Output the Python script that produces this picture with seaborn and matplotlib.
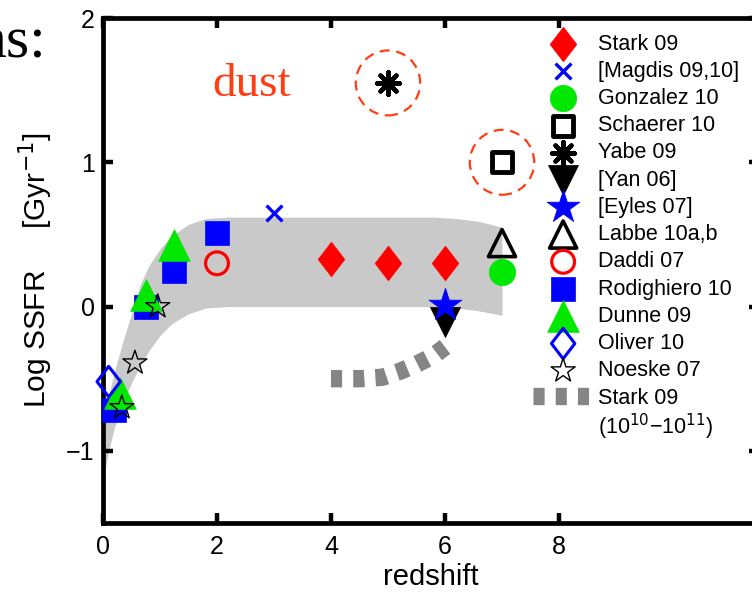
import matplotlib
matplotlib.use("Agg")
import matplotlib.pyplot as plt
from matplotlib.path import Path
from matplotlib.patches import Ellipse
import seaborn as sns

# ---- measurements: redshift z and log specific star-formation rate [Gyr^-1] ----
stark_z = [4.0, 5.0, 6.0]
stark_ssfr = [0.33, 0.30, 0.30]
magdis_z = [3.0]
magdis_ssfr = [0.65]
gonzalez_z = [7.0]
gonzalez_ssfr = [0.24]
schaerer_z = [7.0]
schaerer_ssfr = [1.0]
yabe_z = [5.0]
yabe_ssfr = [1.55]
yan_z = [6.0]
yan_ssfr = [-0.11]
eyles_z = [6.0]
eyles_ssfr = [0.01]
labbe_z = [7.0]
labbe_ssfr = [0.44]
daddi_z = [2.0]
daddi_ssfr = [0.30]
rodighiero_z = [0.2, 0.75, 1.25, 2.0]
rodighiero_ssfr = [-0.72, 0.0, 0.25, 0.51]
dunne_z = [0.3, 0.75, 1.25]
dunne_ssfr = [-0.6, 0.08, 0.43]
oliver_z = [0.1]
oliver_ssfr = [-0.52]
noeske_z = [0.33, 0.56, 0.96]
noeske_ssfr = [-0.70, -0.39, 0.0]
stark_mass_z = [4.0, 4.5, 4.9, 5.2, 5.5, 5.8, 6.0]
stark_mass_ssfr = [-0.5, -0.5, -0.49, -0.45, -0.40, -0.34, -0.28]

# model envelope (shaded band)
band_z = [0.0, 0.1, 0.2, 0.35, 0.5, 0.65, 0.8, 1.0, 1.2, 1.5, 1.8, 2.2,
          3.0, 4.0, 5.0, 5.8, 6.2, 6.6, 7.0]
band_hi = [-0.80, -0.62, -0.45, -0.24, -0.05, 0.15, 0.28, 0.40, 0.49, 0.57,
           0.61, 0.62, 0.62, 0.62, 0.62, 0.62, 0.61, 0.59, 0.55]
band_lo = [-1.20, -1.00, -0.84, -0.67, -0.53, -0.41, -0.31, -0.20, -0.12,
           -0.05, -0.01, 0.0, 0.0, 0.0, 0.0, 0.0, -0.01, -0.03, -0.06]

x_ticks = [0, 2, 4, 6, 8]
y_ticks = [-1, 0, 1, 2]

RED = "#ff0000"
BLUE = "#0000ff"
GREEN = "#00e800"
DUST = "#ff3d12"

sns.set_theme(style="white")
plt.rcParams["font.family"] = ["Liberation Sans", "DejaVu Sans"]
plt.rcParams["text.color"] = "black"
plt.rcParams["axes.labelcolor"] = "black"
plt.rcParams["xtick.color"] = "black"
plt.rcParams["ytick.color"] = "black"
plt.rcParams["axes.edgecolor"] = "black"
plt.rcParams["axes.linewidth"] = 3.4

fig = plt.figure(figsize=(7.52, 5.92), dpi=100)
ax = fig.add_axes([103 / 752, 1 - 523 / 592, (758.5 - 103) / 752, (523 - 18) / 592])

ax.fill_between(band_z, band_lo, band_hi, color="#c9c9c9", lw=0, zorder=0.5)

# tall diamond outline
diamond = Path([(0, 1), (0.77, 0), (0, -1), (-0.77, 0), (0, 1)],
               [Path.MOVETO, Path.LINETO, Path.LINETO, Path.LINETO, Path.CLOSEPOLY])

series = [
    ("Stark 09", stark_z, stark_ssfr,
     dict(marker=diamond, s=620, facecolor=RED, edgecolor=RED, linewidth=0.5)),
    ("[Magdis 09,10]", magdis_z, magdis_ssfr,
     dict(marker="x", s=130, color=BLUE, linewidth=2.4)),
    ("Gonzalez 10", gonzalez_z, gonzalez_ssfr,
     dict(marker="o", s=360, facecolor=GREEN, edgecolor=GREEN, linewidth=0.5)),
    ("Schaerer 10", schaerer_z, schaerer_ssfr,
     dict(marker="s", s=190, facecolor="white", edgecolor="black", linewidth=3.5)),
    ("Yabe 09", yabe_z, yabe_ssfr,
     dict(marker=(8, 2, 0), s=260, color="black", linewidth=3.2)),
    ("[Yan 06]", yan_z, yan_ssfr,
     dict(marker="v", s=470, facecolor="black", edgecolor="black", linewidth=0.5)),
    ("[Eyles 07]", eyles_z, eyles_ssfr,
     dict(marker="*", s=620, facecolor=BLUE, edgecolor=BLUE, linewidth=0.5)),
    ("Labbe 10a,b", labbe_z, labbe_ssfr,
     dict(marker="^", s=380, facecolor="none", edgecolor="black", linewidth=2.6)),
    ("Daddi 07", daddi_z, daddi_ssfr,
     dict(marker="o", s=270, facecolor="none", edgecolor=RED, linewidth=2.3)),
    ("Rodighiero 10", rodighiero_z, rodighiero_ssfr,
     dict(marker="s", s=280, facecolor=BLUE, edgecolor=BLUE, linewidth=0.5)),
    ("Dunne 09", dunne_z, dunne_ssfr,
     dict(marker="^", s=520, facecolor=GREEN, edgecolor=GREEN, linewidth=0.5)),
    ("Oliver 10", oliver_z, oliver_ssfr,
     dict(marker=diamond, s=480, facecolor="none", edgecolor=BLUE, linewidth=2.2)),
    ("Noeske 07", noeske_z, noeske_ssfr,
     dict(marker="*", s=330, facecolor="none", edgecolor="black", linewidth=1.0)),
]

handles, labels = [], []
for name, xs, ys, kw in series:
    sns.scatterplot(x=xs, y=ys, ax=ax, zorder=3, clip_on=False, **kw)
    handles.append(ax.collections[-1])
    labels.append(name)

# Stark 09 stellar-mass-binned relation
sns.lineplot(x=stark_mass_z, y=stark_mass_ssfr, ax=ax, sort=False, estimator=None,
             color="#858585", linewidth=12.5, zorder=2)
mass_line = ax.lines[-1]
mass_line.set_dashes([0.64, 0.64])
mass_line.set_dash_capstyle("butt")
handles.append(mass_line)
labels.append("Stark 09")

# dust-affected points
for cx, cy in [(yabe_z[0], yabe_ssfr[0]), (schaerer_z[0], schaerer_ssfr[0])]:
    ax.add_patch(Ellipse((cx, cy), 1.13, 0.45, fill=False, edgecolor=DUST,
                         linewidth=1.6, linestyle=(0, (4.5, 3)), zorder=3))
ax.text(1.91, 1.46, "dust", color=DUST, fontsize=34, family="Liberation Serif",
        ha="left", va="baseline")

ax.set_xlim(0, 11.5)
ax.set_ylim(-1.5, 2)
ax.set_xticks(x_ticks)
ax.set_yticks(y_ticks)
ax.set_xticklabels([str(t) for t in x_ticks])
ax.set_yticklabels(["\u2212" + str(-t) if t < 0 else str(t) for t in y_ticks])
ax.tick_params(axis="both", which="both", direction="in", length=7, width=3.2,
               top=True, right=True, bottom=True, left=True, labelsize=18)
ax.tick_params(axis="x", pad=9)
ax.tick_params(axis="y", pad=6)
ax.set_xlabel("redshift", fontsize=21, labelpad=2.5)
ax.set_ylabel("Log SSFR     [Gyr$^{-1}$]", fontsize=21.5, labelpad=8)
for sp in ax.spines.values():
    sp.set_linewidth(3.4)
    sp.set_color("black")

leg = ax.legend(handles, labels, loc="upper left",
                bbox_to_anchor=(533 / 752, 1 - 33.5 / 592), bbox_transform=fig.transFigure,
                frameon=False, fontsize=15.5, handlelength=2.8, handletextpad=0.23,
                labelspacing=0.29, borderpad=0, borderaxespad=0, scatterpoints=1)
fig.text(598 / 752, 1 - 427 / 592, "(10$^{10}$\u221210$^{11}$)", fontsize=15.5,
         ha="left", va="center")

fig.text(46 / 752, 1 - 57 / 592, "ns:", fontsize=43, family="Liberation Serif",
         ha="right", va="baseline")

fig.savefig("out.png", dpi=100)
